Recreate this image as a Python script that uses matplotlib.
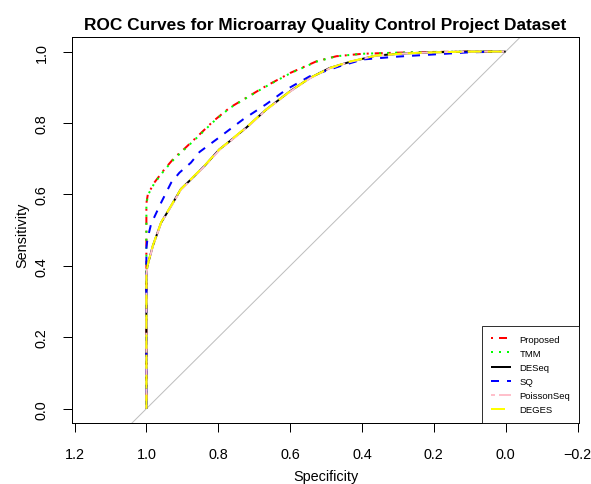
import matplotlib
matplotlib.use("Agg")
import matplotlib.pyplot as plt

plt.rcParams['font.family'] = ['Liberation Sans', 'DejaVu Sans']

title = "ROC Curves for Microarray Quality Control Project Dataset"
labels = ["Proposed", "TMM", "DESeq", "SQ", "PoissonSeq", "DEGES"]
colors = ["#FF0000", "#00FF00", "#000000", "#0000FF", "#FFC0CB", "#FFFF00"]

proposed_spec = [1.0, 1.0, 0.996, 0.978, 0.95, 0.922, 0.894, 0.85, 0.814, 0.768, 0.675, 0.60, 0.526, 0.471, 0.397, 0.30, 0.20, 0.10, 0.0]
proposed_sens = [0.0, 0.575, 0.60, 0.633, 0.67, 0.703, 0.728, 0.77, 0.805, 0.843, 0.899, 0.94, 0.973, 0.987, 0.994, 0.997, 0.999, 1.0, 1.0]

tmm_spec = [1.0, 1.0, 0.996, 0.978, 0.95, 0.922, 0.894, 0.85, 0.814, 0.768, 0.675, 0.60, 0.526, 0.471, 0.397, 0.30, 0.20, 0.10, 0.0]
tmm_sens = [0.0, 0.57, 0.598, 0.631, 0.668, 0.70, 0.726, 0.768, 0.803, 0.842, 0.898, 0.939, 0.972, 0.987, 0.994, 0.997, 0.999, 1.0, 1.0]

deseq_spec = [1.0, 1.0, 0.997, 0.992, 0.982, 0.959, 0.931, 0.904, 0.876, 0.838, 0.797, 0.768, 0.722, 0.666, 0.60, 0.545, 0.49, 0.434, 0.36, 0.28, 0.20, 0.10, 0.0]
deseq_sens = [0.0, 0.38, 0.40, 0.419, 0.456, 0.521, 0.568, 0.615, 0.642, 0.68, 0.726, 0.749, 0.787, 0.838, 0.889, 0.926, 0.954, 0.971, 0.989, 0.995, 0.998, 1.0, 1.0]

sq_spec = [1.0, 1.0, 0.997, 0.987, 0.959, 0.931, 0.908, 0.876, 0.852, 0.805, 0.731, 0.666, 0.61, 0.545, 0.462, 0.397, 0.30, 0.20, 0.10, 0.0]
sq_sens = [0.0, 0.45, 0.475, 0.517, 0.577, 0.633, 0.661, 0.689, 0.719, 0.754, 0.81, 0.853, 0.894, 0.931, 0.959, 0.978, 0.986, 0.992, 0.998, 1.0]

poisson_spec = [1.0, 1.0, 0.997, 0.992, 0.982, 0.959, 0.931, 0.904, 0.876, 0.838, 0.797, 0.768, 0.722, 0.666, 0.60, 0.545, 0.49, 0.434, 0.36, 0.28, 0.20, 0.10, 0.0]
poisson_sens = [0.0, 0.375, 0.398, 0.418, 0.455, 0.52, 0.567, 0.613, 0.641, 0.679, 0.724, 0.748, 0.786, 0.837, 0.888, 0.925, 0.953, 0.971, 0.989, 0.995, 0.998, 1.0, 1.0]

deges_spec = [1.0, 1.0, 0.997, 0.992, 0.982, 0.959, 0.931, 0.904, 0.876, 0.838, 0.797, 0.768, 0.722, 0.666, 0.60, 0.545, 0.49, 0.434, 0.36, 0.28, 0.20, 0.10, 0.0]
deges_sens = [0.0, 0.38, 0.40, 0.42, 0.457, 0.522, 0.569, 0.615, 0.643, 0.681, 0.726, 0.75, 0.788, 0.838, 0.889, 0.926, 0.954, 0.972, 0.989, 0.995, 0.998, 1.0, 1.0]

x_ticks = [1.2, 1.0, 0.8, 0.6, 0.4, 0.2, 0.0, -0.2]
y_ticks = [0.0, 0.2, 0.4, 0.6, 0.8, 1.0]

W, H = 591, 485
fig = plt.figure(figsize=(W / 100, H / 100), dpi=100)
ax = fig.add_axes([72 / W, (H - 424) / H, (579 - 72) / W, (424 - 38.3) / H])

PX = 0.72  # 1 px in points
lw = 2 * PX

ax.axline((1.0, 0.0), (0.0, 1.0), color="#BEBEBE", lw=PX, zorder=1)

series = [
    (proposed_spec, proposed_sens, (0, (1, 3, 4, 3))),
    (tmm_spec, tmm_sens, (0, (1, 3))),
    (deseq_spec, deseq_sens, "-"),
    (sq_spec, sq_sens, (0, (4, 4))),
    (poisson_spec, poisson_sens, (0, (2, 2, 6, 2))),
    (deges_spec, deges_sens, (0, (7, 3))),
]
for (sp, se, ls), lab, col in zip(series, labels, colors):
    ax.plot(sp, se, color=col, lw=lw, linestyle=ls, label=lab, zorder=2,
            solid_capstyle="butt", dash_capstyle="butt")

ax.set_xlim(1.207, -0.204)
ax.set_ylim(-0.04, 1.04)
ax.set_xticks(x_ticks)
ax.set_xticklabels([f"{v:.1f}".replace("-", "\u2212") for v in x_ticks])
ax.set_yticks(y_ticks)
ax.set_yticklabels([f"{v:.1f}" for v in y_ticks], rotation=90, va="center")

for s in ax.spines.values():
    s.set_linewidth(PX)
ax.tick_params(axis="both", direction="out", length=8.64 * PX, width=PX,
               labelsize=10.37, color="#000000")
ax.tick_params(axis="x", pad=11)
ax.tick_params(axis="y", pad=10.5)

ax.set_title(title, fontsize=12.44, fontweight="bold", pad=6)
fig.text((72 + 579) / 2 / W, (H - 481.5) / H, "Specificity", ha="center",
         va="baseline", fontsize=10.37)
fig.text(22 / W, (H - 235) / H, "Sensitivity", ha="center", va="center",
         rotation=90, fontsize=10.37)

leg = ax.legend(loc="lower right", fontsize=6.8, frameon=True, fancybox=False,
                borderaxespad=0, handlelength=2.1, handletextpad=0.95,
                labelspacing=0.55, borderpad=0.9)
leg.get_frame().set_edgecolor("black")
leg.get_frame().set_linewidth(PX)

fig.savefig("out.png", dpi=100)
